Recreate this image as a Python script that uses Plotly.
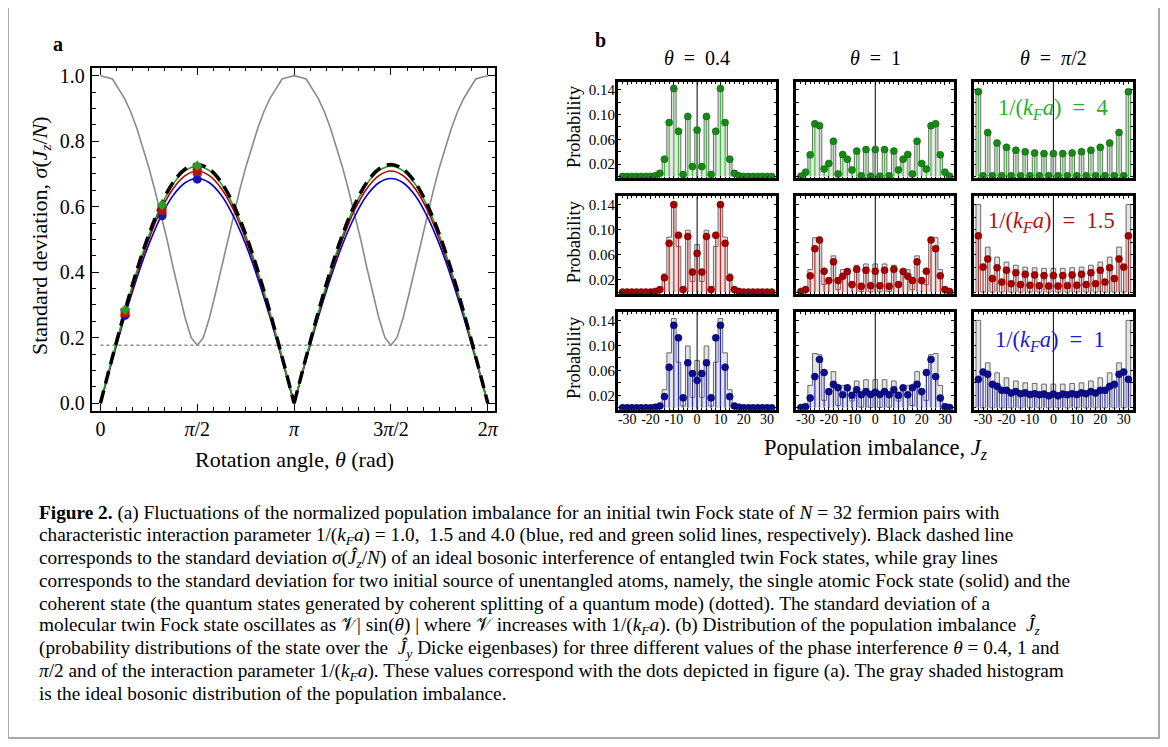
import math
import plotly.graph_objects as go

# page size and body offset (browser default body margin)
PW, PH = 1168, 747
OFF = 8
FW, FH = PW - OFF, PH - OFF
SERIF = "Liberation Serif, Times New Roman, serif"
EN = "\u2002"

# ---------------- Panel a data ----------------
PI = math.pi
theta_fine = [k * PI / 32 for k in range(65)]
fock_std = [1.00, 0.995, 0.99, 0.96, 0.93, 0.89, 0.84, 0.78, 0.72, 0.65, 0.575, 0.50, 0.415, 0.335, 0.26, 0.20, 0.177,
            0.20, 0.26, 0.335, 0.415, 0.50, 0.575, 0.65, 0.72, 0.78, 0.84, 0.89, 0.93, 0.96, 0.99, 0.995, 1.00,
            0.995, 0.99, 0.96, 0.93, 0.89, 0.84, 0.78, 0.72, 0.65, 0.575, 0.50, 0.415, 0.335, 0.26, 0.20, 0.177,
            0.20, 0.26, 0.335, 0.415, 0.50, 0.575, 0.65, 0.72, 0.78, 0.84, 0.89, 0.93, 0.96, 0.99, 0.995, 1.00]

theta_coarse = [k * PI / 16 for k in range(33)]
twin_ideal = [0, 0.142, 0.279, 0.405, 0.515, 0.606, 0.674, 0.715, 0.729, 0.715, 0.674, 0.606, 0.515, 0.405, 0.279, 0.142, 0,
              0.142, 0.279, 0.405, 0.515, 0.606, 0.674, 0.715, 0.729, 0.715, 0.674, 0.606, 0.515, 0.405, 0.279, 0.142, 0]
twin_k40 = [0, 0.141, 0.277, 0.402, 0.512, 0.602, 0.669, 0.710, 0.724, 0.710, 0.669, 0.602, 0.512, 0.402, 0.277, 0.141, 0,
            0.141, 0.277, 0.402, 0.512, 0.602, 0.669, 0.710, 0.724, 0.710, 0.669, 0.602, 0.512, 0.402, 0.277, 0.141, 0]
twin_k15 = [0, 0.138, 0.271, 0.394, 0.501, 0.590, 0.655, 0.695, 0.709, 0.695, 0.655, 0.590, 0.501, 0.394, 0.271, 0.138, 0,
            0.138, 0.271, 0.394, 0.501, 0.590, 0.655, 0.695, 0.709, 0.695, 0.655, 0.590, 0.501, 0.394, 0.271, 0.138, 0]
twin_k10 = [0, 0.134, 0.263, 0.381, 0.485, 0.570, 0.634, 0.673, 0.686, 0.673, 0.634, 0.570, 0.485, 0.381, 0.263, 0.134, 0,
            0.134, 0.263, 0.381, 0.485, 0.570, 0.634, 0.673, 0.686, 0.673, 0.634, 0.570, 0.485, 0.381, 0.263, 0.134, 0]

coherent_theta = [0, 2 * PI]
coherent_std = [0.177, 0.177]

theta_marks = [0.4, 1.0, PI / 2]
marks_k40 = [0.285, 0.605, 0.725]
marks_k15 = [0.277, 0.590, 0.708]
marks_k10 = [0.268, 0.572, 0.684]

# ---------------- Panel b data ----------------
Jz = list(range(-32, 33, 2))

ideal_04 = [0, 0, 0, 0, 0, 0, 0, 0.001, 0.005, 0.029, 0.088, 0.143, 0.073, 0.003, 0.099, 0.017, 0.076,
            0.017, 0.099, 0.003, 0.073, 0.143, 0.088, 0.029, 0.005, 0.001, 0, 0, 0, 0, 0, 0, 0]
green_04 = [0, 0, 0, 0, 0, 0, 0, 0.001, 0.005, 0.028, 0.087, 0.142, 0.073, 0.003, 0.097, 0.016, 0.075,
            0.016, 0.097, 0.003, 0.073, 0.142, 0.087, 0.028, 0.005, 0.001, 0, 0, 0, 0, 0, 0, 0]
red_04 = [0, 0, 0, 0, 0, 0, 0, 0.001, 0.004, 0.023, 0.078, 0.140, 0.091, 0.004, 0.089, 0.032, 0.062,
          0.032, 0.089, 0.004, 0.091, 0.140, 0.078, 0.023, 0.004, 0.001, 0, 0, 0, 0, 0, 0, 0]
blue_04 = [0, 0, 0, 0, 0, 0, 0, 0.001, 0.003, 0.018, 0.065, 0.132, 0.112, 0.016, 0.072, 0.055, 0.044,
           0.055, 0.072, 0.016, 0.112, 0.132, 0.065, 0.018, 0.003, 0.001, 0, 0, 0, 0, 0, 0, 0]

ideal_1 = [0.001, 0.007, 0.036, 0.087, 0.085, 0.012, 0.021, 0.058, 0.004, 0.036, 0.028, 0.011, 0.043, 0.001, 0.045, 0.0005, 0.045,
           0.0005, 0.045, 0.001, 0.043, 0.011, 0.028, 0.036, 0.004, 0.058, 0.021, 0.012, 0.085, 0.087, 0.036, 0.007, 0.001]
green_1 = [0.0005, 0.007, 0.035, 0.085, 0.082, 0.012, 0.021, 0.057, 0.004, 0.0355, 0.028, 0.0105, 0.041, 0.001, 0.0435, 0.0005, 0.0435,
           0.0005, 0.0435, 0.001, 0.041, 0.0105, 0.028, 0.0355, 0.004, 0.057, 0.021, 0.012, 0.082, 0.085, 0.035, 0.007, 0.0005]
red_1 = [0.001, 0.004, 0.026, 0.0695, 0.0835, 0.0334, 0.0184, 0.0485, 0.0185, 0.0254, 0.033, 0.012, 0.0365, 0.0093, 0.035, 0.0103, 0.0334,
         0.0103, 0.035, 0.0093, 0.0365, 0.012, 0.033, 0.0254, 0.0185, 0.0485, 0.0184, 0.0334, 0.0835, 0.0695, 0.026, 0.004, 0.001]
blue_1 = [0.0005, 0.0015, 0.0157, 0.050, 0.0775, 0.0565, 0.026, 0.0376, 0.0323, 0.0211, 0.032, 0.020, 0.029, 0.021, 0.026, 0.0215, 0.025,
          0.0215, 0.026, 0.021, 0.029, 0.020, 0.032, 0.0211, 0.0323, 0.0376, 0.026, 0.0565, 0.0775, 0.050, 0.0157, 0.0015, 0.0005]

ideal_pi2 = [0.140, 0, 0.072, 0, 0.056, 0, 0.048, 0, 0.043, 0, 0.040, 0, 0.039, 0, 0.038, 0, 0.038,
             0, 0.038, 0, 0.039, 0, 0.040, 0, 0.043, 0, 0.048, 0, 0.056, 0, 0.072, 0, 0.140]
green_pi2 = [0.137, 0.001, 0.071, 0.001, 0.054, 0.001, 0.047, 0.001, 0.0425, 0.001, 0.040, 0.001, 0.038, 0.001, 0.037, 0.001, 0.037,
             0.001, 0.037, 0.001, 0.038, 0.001, 0.040, 0.001, 0.0425, 0.001, 0.047, 0.001, 0.054, 0.001, 0.071, 0.001, 0.137]
red_pi2 = [0.090, 0.040, 0.053, 0.0216, 0.039, 0.016, 0.035, 0.0135, 0.031, 0.012, 0.0286, 0.011, 0.0275, 0.0103, 0.0264, 0.0097, 0.0264,
           0.0097, 0.0264, 0.0103, 0.0275, 0.011, 0.0286, 0.012, 0.031, 0.0135, 0.035, 0.016, 0.039, 0.0216, 0.053, 0.040, 0.090]
blue_pi2 = [0.0456, 0.0573, 0.0536, 0.0376, 0.0344, 0.028, 0.028, 0.0237, 0.026, 0.0227, 0.024, 0.0213, 0.0227, 0.021, 0.022, 0.0192, 0.022,
            0.0192, 0.022, 0.021, 0.0227, 0.0213, 0.024, 0.0227, 0.026, 0.0237, 0.028, 0.028, 0.0344, 0.0376, 0.0536, 0.0573, 0.0456]

col_titles = [f"<i>θ</i>{EN}={EN}0.4", f"<i>θ</i>{EN}={EN}1", f"<i>θ</i>{EN}={EN}<i>π</i>/2"]
kfa_labels = [f"1/(<i>k<sub>F</sub>a</i>){EN}={EN}4", f"1/(<i>k<sub>F</sub>a</i>){EN}={EN}1.5", f"1/(<i>k<sub>F</sub>a</i>){EN}={EN}1"]
prob_ticks = [0.02, 0.06, 0.10, 0.14]
prob_ticktext = ["0.02", "0.06", "0.10", "0.14"]
jz_ticks = [-30, -20, -10, 0, 10, 20, 30]
jz_ticktext = ["-30", "-20", "-10", "0", "10", "20", "30"]

caption_lines = [
    "<b>Figure 2.</b> (a) Fluctuations of the normalized population imbalance for an initial twin Fock state of <i>N</i> = 32 fermion pairs with",
    "characteristic interaction parameter 1/(<i>k<sub>F</sub>a</i>) = 1.0,  1.5 and 4.0 (blue, red and green solid lines, respectively). Black dashed line",
    "corresponds to the standard deviation <i>σ</i>(<i>Ĵ<sub>z</sub></i>/<i>N</i>) of an ideal bosonic interference of entangled twin Fock states, while gray lines",
    "corresponds to the standard deviation for two initial source of unentangled atoms, namely, the single atomic Fock state (solid) and the",
    "coherent state (the quantum states generated by coherent splitting of a quantum mode) (dotted). The standard deviation of a",
    "molecular twin Fock state oscillates as 𝒱| sin(<i>θ</i>) | where 𝒱 increases with 1/(<i>k<sub>F</sub>a</i>). (b) Distribution of the population imbalance  <i>Ĵ<sub>z</sub></i>",
    "(probability distributions of the state over the  <i>Ĵ<sub>y</sub></i> Dicke eigenbases) for three different values of the phase interference <i>θ</i> = 0.4, 1 and",
    "<i>π</i>/2 and of the interaction parameter 1/(<i>k<sub>F</sub>a</i>). These values correspond with the dots depicted in figure (a). The gray shaded histogram",
    "is the ideal bosonic distribution of the population imbalance.",
]


def px(x):
    return (x - OFF) / FW


def py(y):
    return 1 - (y - OFF) / FH


def dx(a, b):
    return [px(a), px(b)]


def dy(top, bottom):
    return [py(bottom), py(top)]


fig = go.Figure()


def split_at_pi(xs, ys):
    n = len(xs) // 2
    return xs[:n + 1] + [None] + xs[n:], ys[:n + 1] + [None] + ys[n:]


# ---------------- Panel a traces ----------------
fig.add_trace(go.Scatter(x=theta_fine, y=fock_std, mode="lines", line=dict(color="#8a8a8a", width=1.6),
                         xaxis="x", yaxis="y", showlegend=False))
fig.add_trace(go.Scatter(x=coherent_theta, y=coherent_std, mode="lines", line=dict(color="#8a8a8a", width=1.6, dash="dot"),
                         xaxis="x", yaxis="y", showlegend=False))
for vals, col in [(twin_k10, "#0000d0"), (twin_k15, "#b80000"), (twin_k40, "#22a022")]:
    sx, sy = split_at_pi(theta_coarse, vals)
    fig.add_trace(go.Scatter(x=sx, y=sy, mode="lines", line=dict(color=col, width=1.6, shape="spline"),
                             xaxis="x", yaxis="y", showlegend=False, connectgaps=False))
sx, sy = split_at_pi(theta_coarse, twin_ideal)
fig.add_trace(go.Scatter(x=sx, y=sy, mode="lines", line=dict(color="black", width=3.5, dash="13px,7px", shape="spline"),
                         xaxis="x", yaxis="y", showlegend=False, connectgaps=False))
fig.add_trace(go.Scatter(x=theta_marks, y=marks_k10, mode="markers", marker=dict(symbol="circle", size=9, color="#1a1aa8"),
                         xaxis="x", yaxis="y", showlegend=False))
fig.add_trace(go.Scatter(x=theta_marks, y=marks_k15, mode="markers", marker=dict(symbol="square", size=9, color="#b41414"),
                         xaxis="x", yaxis="y", showlegend=False))
fig.add_trace(go.Scatter(x=theta_marks, y=marks_k40, mode="markers", marker=dict(symbol="diamond", size=8, color="#28a028"),
                         xaxis="x", yaxis="y", showlegend=False))

layout_axes = {}
layout_axes["xaxis"] = dict(
    domain=dx(92.7, 496.7), range=[-0.13, 6.40], anchor="y",
    tickvals=[0, PI / 2, PI, 3 * PI / 2, 2 * PI], ticktext=["0", "<i>π</i>/2", "<i>π</i>", "3<i>π</i>/2", "2<i>π</i>"],
    ticks="inside", ticklen=7, tickcolor="black", tickwidth=1,
    minor=dict(ticks="inside", ticklen=3.5, tick0=0, dtick=PI / 12, tickcolor="black"),
    showline=True, mirror="ticks", linecolor="black", linewidth=1.5,
    showgrid=False, zeroline=False, ticklabelstandoff=0,
    tickfont=dict(family=SERIF, size=20, color="black"),
)
layout_axes["yaxis"] = dict(
    domain=dy(65.3, 411), range=[-0.023, 1.024], anchor="x",
    tickvals=[0, 0.2, 0.4, 0.6, 0.8, 1.0], ticktext=["0.0", "0.2", "0.4", "0.6", "0.8", "1.0"],
    ticks="inside", ticklen=7, tickcolor="black",
    minor=dict(ticks="inside", ticklen=3.5, tick0=0, dtick=0.05, tickcolor="black"),
    showline=True, mirror="ticks", linecolor="black", linewidth=1.5,
    showgrid=False, zeroline=False, ticklabelstandoff=2,
    tickfont=dict(family=SERIF, size=20, color="black"),
)

# ---------------- Panel b traces ----------------
cols_px = [(620, 779), (799, 957.5), (977, 1137)]
rows_px = [(79.3, 176.7), (195, 293.3), (311.7, 410)]
col_ideal = [ideal_04, ideal_1, ideal_pi2]
row_data = [[green_04, green_1, green_pi2], [red_04, red_1, red_pi2], [blue_04, blue_1, blue_pi2]]
row_dot_col = ["#168a16", "#a80000", "#0c0c8e"]
row_dot_edge = ["#0b5e0b", "#700000", "#05055a"]
row_stem_col = ["#3cc03c", "#cc2424", "#2a2ac8"]
row_label_col = ["#2aae2a", "#b01010", "#1a1ad0"]
YR = [-0.003, 0.153]

step_x = [Jz[0] - 1] + [j - 1 for j in Jz] + [Jz[-1] + 1]

for r in range(3):
    for c in range(3):
        n = r * 3 + c + 2
        xa, ya = f"x{n}", f"y{n}"
        ideal = col_ideal[c]
        vals = row_data[r][c]
        fig.add_trace(go.Bar(x=Jz, y=ideal, width=2, marker=dict(color="#e3e3e3", line=dict(width=0)),
                             xaxis=xa, yaxis=ya, showlegend=False))
        fig.add_trace(go.Scatter(x=step_x, y=[0] + ideal + [0], mode="lines",
                                 line=dict(color="#6a6a6a", width=1, shape="hv"),
                                 xaxis=xa, yaxis=ya, showlegend=False))
        fig.add_trace(go.Scatter(x=[0, 0], y=YR, mode="lines", line=dict(color="black", width=1),
                                 xaxis=xa, yaxis=ya, showlegend=False))
        fig.add_trace(go.Scatter(
            x=Jz, y=vals, mode="markers",
            marker=dict(size=7, color=row_dot_col[r], line=dict(color=row_dot_edge[r], width=0.6)),
            error_y=dict(type="data", symmetric=False, array=[0] * len(vals), arrayminus=vals,
                         width=0, thickness=1.2, color=row_stem_col[r]),
            xaxis=xa, yaxis=ya, showlegend=False))
        layout_axes[f"xaxis{n}"] = dict(
            domain=dx(*cols_px[c]), range=[-34, 34], anchor=ya,
            tickvals=jz_ticks, ticktext=jz_ticktext, showticklabels=(r == 2),
            ticks="inside", ticklen=3, tickcolor="black",
            minor=dict(ticks="inside", ticklen=2, tick0=0, dtick=2, tickcolor="black"),
            showline=True, mirror="ticks", linecolor="black", linewidth=2.6,
            showgrid=False, zeroline=False, ticklabelstandoff=-5,
            tickfont=dict(family=SERIF, size=14, color="black"),
        )
        layout_axes[f"yaxis{n}"] = dict(
            domain=dy(*rows_px[r]), range=YR, anchor=xa,
            tickvals=prob_ticks, ticktext=prob_ticktext, showticklabels=(c == 0),
            ticks="inside", ticklen=3, tickcolor="black",
            minor=dict(ticks="inside", ticklen=3, tick0=0, dtick=0.02, tickcolor="black"),
            showline=True, mirror="ticks", linecolor="black", linewidth=2.6,
            showgrid=False, zeroline=False, ticklabelstandoff=-3,
            tickfont=dict(family=SERIF, size=15, color="black"),
        )

# ---------------- Annotations ----------------
ann = []


def add_text(x, y, text, size, color="black", xanchor="center", yanchor="middle", angle=0):
    ann.append(dict(x=px(x), y=py(y), xref="paper", yref="paper", text=text, showarrow=False,
                    xanchor=xanchor, yanchor=yanchor, textangle=angle,
                    font=dict(family=SERIF, size=size, color=color)))


add_text(58, 41, "<b>a</b>", 20)
add_text(603, 37, "<b>b</b>", 20)
add_text(41, 234, "Standard deviation, <i>σ</i>(<i>J<sub>z</sub></i>/<i>N</i>)", 22, angle=-90)
add_text(295, 460, "Rotation angle, <i>θ</i> (rad)", 22)
for c in range(3):
    add_text((cols_px[c][0] + cols_px[c][1]) / 2, 55, col_titles[c], 20)
for r in range(3):
    add_text(576, (rows_px[r][0] + rows_px[r][1]) / 2 - 3, "Probability", 18.5, angle=-90)
kfa_pos = [(1057, 107), (1055, 221), (1054, 341)]
for r in range(3):
    add_text(kfa_pos[r][0], kfa_pos[r][1], kfa_labels[r], 22.5, color=row_label_col[r])
add_text(878, 450, "Population imbalance, <i>J<sub>z</sub></i>", 22.5)

cap_y = [514, 537, 560, 583, 606, 628, 651, 674, 696]
for yy, line in zip(cap_y, caption_lines):
    add_text(37, yy, line, 19.3, xanchor="left")

shapes = [dict(type="rect", xref="paper", yref="paper", x0=px(8), x1=px(1163), y0=py(741), y1=py(-5),
               line=dict(color="#a8a8a8", width=2), fillcolor="rgba(0,0,0,0)", layer="below")]

fig.update_layout(
    width=FW, height=FH, margin=dict(l=0, r=0, t=0, b=0),
    paper_bgcolor="white", plot_bgcolor="rgba(0,0,0,0)",
    showlegend=False, barmode="overlay",
    annotations=ann, shapes=shapes,
    **layout_axes,
)

fig.write_html("out.html")
